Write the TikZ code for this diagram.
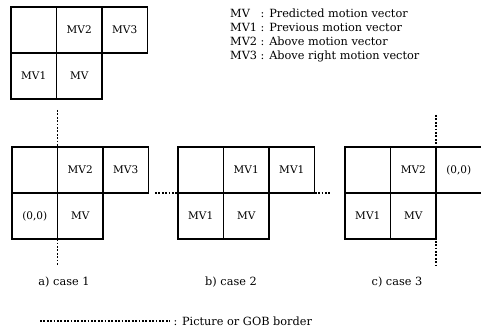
\documentclass[tikz,border=0pt]{standalone}
\usepackage{fontspec}
\setmainfont{DejaVu Serif}
\usetikzlibrary{positioning}

\begin{document}
\begin{tikzpicture}[x=1pt, y=-1pt,
  cell/.style={draw, line width=1.1pt, minimum width=45.5pt, minimum height=46pt,
               inner sep=0pt, outer sep=0pt, font=\fontsize{10.5}{12}\selectfont},
  gob/.style={line width=1.1pt, dash pattern=on 1.8pt off 1.6pt},
  txt/.style={font=\fontsize{11.3}{14}\selectfont}]
  \useasboundingbox (0,0) rectangle (481,331);
  % neighbourhood of the current block
  \node[cell, anchor=north west] (t0) at (11,7) {};
  \node[cell, right=0pt of t0] (t2) {MV2};
  \node[cell, right=0pt of t2] (t3) {MV3};
  \node[cell, below=0pt of t0] (t1) {MV1};
  \node[cell, right=0pt of t1] (t) {MV};
  \node[txt, anchor=west, inner sep=0pt] (legend) at (230,36)
    {\begin{tabular}{@{}l@{ }l@{}}
      MV & : Predicted motion vector\\
      MV1 & : Previous motion vector\\
      MV2 & : Above motion vector\\
      MV3 & : Above right motion vector
     \end{tabular}};
  % a) case 1
  \node[cell, anchor=north west] (a0) at (12,147) {};
  \node[cell, right=0pt of a0] (a2) {MV2};
  \node[cell, right=0pt of a2] (a3) {MV3};
  \node[cell, below=0pt of a0] (a1) {(0,0)};
  \node[cell, right=0pt of a1] (a) {MV};
  \draw[gob] ([yshift=37pt]a0.north east) -- ([yshift=-26pt]a1.south east);
  \node[txt] (la) at (64,282) {a) case 1};
  % b) case 2
  \node[cell, anchor=north west] (b0) at (178,147) {};
  \node[cell, right=0pt of b0] (b2) {MV1};
  \node[cell, right=0pt of b2] (b3) {MV1};
  \node[cell, below=0pt of b0] (b1) {MV1};
  \node[cell, right=0pt of b1] (b) {MV};
  \draw[gob] ([xshift=-23pt]b0.south west) -- ([xshift=15pt]b3.south east);
  \node[txt] (lb) at (231,282) {b) case 2};
  % c) case 3
  \node[cell, anchor=north west] (c0) at (345,147) {};
  \node[cell, right=0pt of c0] (c2) {MV2};
  \node[cell, right=0pt of c2] (c3) {(0,0)};
  \node[cell, below=0pt of c0] (c1) {MV1};
  \node[cell, right=0pt of c1] (c) {MV};
  \draw[gob] ([yshift=32pt]c2.north east) -- ([yshift=-26pt]c.south east);
  \node[txt] (lc) at (397,282) {c) case 3};
  % border legend
  \node[txt, anchor=west] (gobtext) at (170,321) {: Picture or GOB border};
  \draw[gob] ([xshift=-130pt]gobtext.west) -- (gobtext.west);
\end{tikzpicture}
\end{document}
